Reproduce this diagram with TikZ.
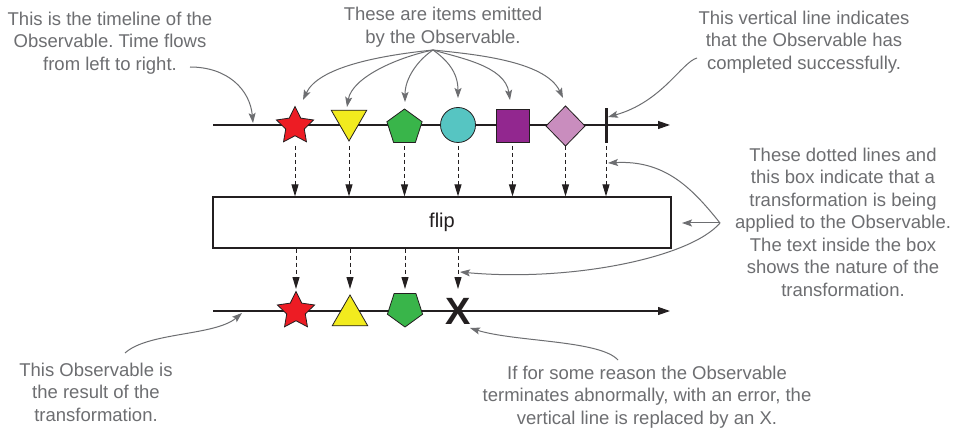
\documentclass[tikz,border=0pt]{standalone}
\usepackage{fontspec}
\setmainfont{Liberation Sans}
\usetikzlibrary{shapes.geometric,arrows.meta,calc}
\definecolor{anno}{RGB}{109,110,113}
\definecolor{cred}{RGB}{237,28,36}
\definecolor{cyel}{RGB}{242,235,30}
\definecolor{cgrn}{RGB}{57,181,74}
\definecolor{ccyan}{RGB}{86,197,194}
\definecolor{cpurp}{RGB}{146,39,143}
\definecolor{cpink}{RGB}{201,141,190}
\definecolor{ink}{RGB}{35,31,32}
\tikzset{
  item/.style={draw=ink, line width=0.8pt, inner sep=0pt, outer sep=0pt},
  tline/.style={ink, line width=1.2pt, -{Triangle[length=12pt,width=8pt]}},
  dasharr/.style={ink, dash pattern=on 4pt off 3pt, line width=1pt, -{Triangle[length=12pt,width=7pt]}},
  annoarr/.style={anno, line width=1pt, -{Stealth[length=10pt,width=7pt,inset=2pt]}},
  annotext/.style={text=anno, align=center, inner sep=0pt, font=\fontsize{18.5}{22.5}\selectfont},
}
\frenchspacing
\begin{document}
\begin{tikzpicture}[x=1pt,y=1pt]
\useasboundingbox (0,0) rectangle (955,-430);
\fill[white] (0,0) rectangle (955,-430);

% top timeline
\coordinate (t1s) at (213,-125);
\coordinate (t1e) at (670,-125);
\draw[tline] (t1s) -- (t1e);

\node[item, star, star points=5, star point ratio=2.0, minimum size=39pt, fill=cred] (a1) at (295,-126) {};
\node[item, regular polygon, regular polygon sides=3, shape border rotate=180, minimum size=41pt, fill=cyel] (a2) at (349,-120.5) {};
\node[item, regular polygon, regular polygon sides=5, minimum size=37pt, fill=cgrn] (a3) at (404.5,-127.5) {};
\node[item, circle, minimum size=35pt, fill=ccyan] (a4) at (458,-125) {};
\node[item, rectangle, minimum size=33pt, fill=cpurp] (a5) at (512.5,-125.5) {};
\node[item, diamond, minimum width=39pt, minimum height=40pt, fill=cpink] (a6) at (565.5,-126) {};
\node[fill=ink, inner sep=0pt, minimum width=3pt, minimum height=35pt] (bar) at (606,-125.5) {};

% box
\node[draw=ink, line width=1.2pt, minimum width=458pt, minimum height=51pt, text=ink, font=\fontsize{20}{24}\selectfont] (box) at (442,-222.5) {flip};

\foreach \n in {a1,a2,a3,a4,a5,a6,bar}{
  \draw[dasharr] (\n.center |- 0,-146) -- (\n.center |- box.north);
}

% bottom timeline
\coordinate (t2s) at (213,-311);
\coordinate (t2e) at (670,-311);
\draw[tline] (t2s) -- (t2e);

\node[item, star, star points=5, star point ratio=2.0, minimum size=39pt, fill=cred] (b1) at (296,-311) {};
\node[item, regular polygon, regular polygon sides=3, minimum size=41pt, fill=cyel] (b2) at (350,-315.5) {};
\node[item, regular polygon, regular polygon sides=5, shape border rotate=180, minimum size=37pt, fill=cgrn] (b3) at (405,-308.5) {};
\node[inner sep=0pt, text=ink, font=\fontsize{38}{38}\bfseries\selectfont] (b4) at (458,-311) {X};

\foreach \n in {b1,b2,b3,b4}{
  \draw[dasharr] (\n.center |- box.south) -- (\n.center |- 0,-289);
}

% annotation texts
\node[annotext] (n1) at (110,-43) {This is the timeline of the\\Observable. Time flows\\from left to right.};
\node[annotext] (n2) at (443,-27) {These are items emitted\\by the Observable.};
\node[annotext] (n3) at (804,-42) {This vertical line indicates\\that the Observable has\\completed successfully.};
\node[annotext] (n4) at (843,-222) {These dotted lines and\\this box indicate that a\\transformation is being\\applied to the Observable.\\The text inside the box\\shows the nature of the\\transformation.};
\node[annotext] (n5) at (96,-392) {This Observable is\\the result of the\\transformation.};
\node[annotext] (n6) at (647,-397) {If for some reason the Observable\\terminates abnormally, with an error, the\\vertical line is replaced by an X.};

% annotation arrows
\coordinate (p1) at (190,-67);
\coordinate (q1) at (253,-123);
\draw[annoarr] (p1) .. controls (228,-67) and (250,-90) .. (q1);

\coordinate (p2) at (433,-50);
\coordinate (q21) at (303,-100);
\coordinate (q22) at (347,-107);
\coordinate (q23) at (405,-102);
\coordinate (q24) at (458,-98);
\coordinate (q25) at (510,-100);
\coordinate (q26) at (563,-98);
\draw[annoarr] (p2) .. controls (375,-56) and (318,-68) .. (q21);
\draw[annoarr] (p2) .. controls (395,-58) and (352,-78) .. (q22);
\draw[annoarr] (p2) .. controls (418,-60) and (405,-78) .. (q23);
\draw[annoarr] (p2) .. controls (447,-60) and (458,-72) .. (q24);
\draw[annoarr] (p2) .. controls (460,-58) and (505,-66) .. (q25);
\draw[annoarr] (p2) .. controls (470,-54) and (545,-60) .. (q26);

\coordinate (p3) at (697,-58);
\coordinate (q3) at (608,-117);
\draw[annoarr] (p3) .. controls (682,-62) and (662,-102) .. (q3);

\coordinate (p4) at (720,-223);
\coordinate (q41) at (608,-163);
\coordinate (q42) at (682,-223);
\coordinate (q43) at (460,-272);
\draw[annoarr] (p4) .. controls (692,-188) and (665,-160) .. (q41);
\draw[annoarr] (p4) -- (q42);
\draw[annoarr] (p4) .. controls (690,-258) and (570,-282) .. (q43);

\coordinate (p5) at (125,-353);
\coordinate (q5) at (242,-313);
\draw[annoarr] (p5) .. controls (148,-332) and (215,-336) .. (q5);

\coordinate (p6) at (618,-360);
\coordinate (q6) at (470,-328);
\draw[annoarr] (p6) .. controls (600,-340) and (515,-342) .. (q6);
\end{tikzpicture}
\end{document}
